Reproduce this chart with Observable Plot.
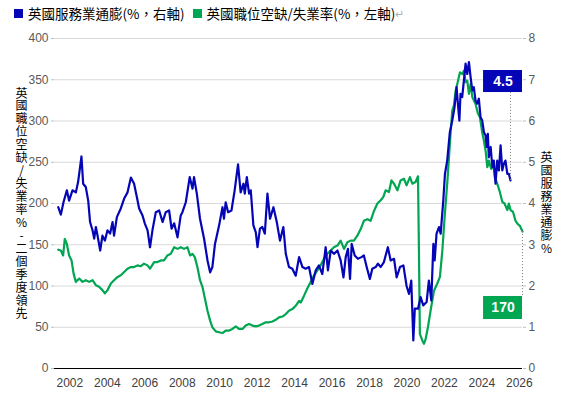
<!DOCTYPE html>
<html><head><meta charset="utf-8">
<script src="https://cdn.jsdelivr.net/npm/d3@7"></script>
<script src="https://cdn.jsdelivr.net/npm/@observablehq/plot@0.6"></script>
<style>
body{margin:0;background:#fff;}
#wrap{width:583px;height:399px;position:relative;overflow:hidden;}
#legend{height:26px;display:flex;align-items:center;padding-left:14px;font-family:"Noto Sans CJK TC","Liberation Sans",sans-serif;font-size:13.5px;color:#000;white-space:nowrap;}
#legend .sw{display:inline-block;width:9px;height:9px;margin-right:5px;}
#legend .item{display:flex;align-items:center;margin-right:8px;}
#legend .pm{color:#b0b0b0;font-size:11px;}
</style></head><body>
<div id="wrap"><div id="legend"></div><div id="chart"></div></div>
<script>
// UK services inflation (%, right axis)
const blueYears = [2001.38,2001.52,2001.66,2001.84,2001.96,2002.14,2002.32,2002.44,2002.62,2002.71,2002.85,2002.98,2003.08,2003.21,2003.30,2003.39,2003.48,2003.62,2003.74,2003.87,2004.01,2004.15,2004.28,2004.36,2004.51,2004.72,2004.90,2005.08,2005.26,2005.43,2005.58,2005.70,2005.88,2006.00,2006.15,2006.28,2006.41,2006.59,2006.77,2006.95,2007.12,2007.30,2007.43,2007.57,2007.75,2007.92,2008.01,2008.19,2008.40,2008.55,2008.63,2008.78,2008.95,2009.17,2009.35,2009.49,2009.61,2009.75,2009.97,2010.15,2010.23,2010.32,2010.45,2010.63,2010.80,2010.98,2011.12,2011.27,2011.34,2011.45,2011.57,2011.66,2011.80,2011.93,2012.02,2012.15,2012.28,2012.41,2012.55,2012.69,2012.87,2013.05,2013.22,2013.40,2013.53,2013.70,2013.88,2014.06,2014.24,2014.42,2014.59,2014.77,2014.95,2015.13,2015.30,2015.48,2015.66,2015.78,2015.93,2016.10,2016.29,2016.46,2016.61,2016.73,2016.85,2016.96,2017.05,2017.21,2017.38,2017.57,2017.70,2017.85,2018.02,2018.15,2018.33,2018.45,2018.60,2018.77,2018.98,2019.13,2019.31,2019.45,2019.63,2019.81,2019.98,2020.11,2020.23,2020.34,2020.42,2020.59,2020.73,2020.87,2021.05,2021.17,2021.30,2021.41,2021.48,2021.58,2021.71,2021.80,2021.94,2022.03,2022.15,2022.29,2022.42,2022.54,2022.65,2022.72,2022.80,2022.86,2022.95,2023.04,2023.13,2023.22,2023.31,2023.40,2023.49,2023.57,2023.66,2023.75,2023.84,2023.93,2024.02,2024.11,2024.20,2024.25,2024.32,2024.37,2024.47,2024.56,2024.64,2024.73,2024.82,2024.91,2025.00,2025.09,2025.17,2025.26,2025.36,2025.44,2025.53];
const blueValues = [3.91,3.73,4.03,4.32,4.07,4.32,4.27,4.52,5.14,4.48,4.40,4.07,3.55,3.35,3.15,3.43,3.22,2.86,3.22,3.10,3.35,3.27,3.55,3.22,3.67,3.88,4.12,4.27,4.63,4.48,4.15,3.88,3.71,3.52,3.35,2.94,3.35,3.79,3.83,3.55,3.79,3.83,3.39,3.52,3.18,3.71,3.79,4.03,4.64,4.36,4.64,4.24,3.63,3.14,2.62,2.33,2.46,3.02,3.47,3.91,3.63,4.03,3.79,3.83,4.32,4.95,4.27,4.48,4.24,4.64,4.24,4.32,3.47,3.30,2.94,3.39,3.43,3.27,4.24,3.63,3.91,3.55,3.10,3.43,2.78,2.46,2.42,2.25,2.70,2.46,2.42,2.46,2.05,2.38,2.50,2.29,2.94,2.38,2.86,2.78,2.86,2.62,2.21,2.70,2.90,2.17,3.02,2.74,2.66,2.70,2.74,2.46,2.17,2.42,2.46,2.54,2.46,2.58,2.94,2.62,2.66,2.21,2.46,2.50,2.00,1.81,2.13,0.68,1.45,1.45,1.73,1.53,1.61,2.13,1.65,3.02,2.62,3.27,3.43,3.27,4.07,4.72,5.04,5.73,6.01,6.33,6.82,6.42,6.01,6.66,6.58,6.98,7.39,7.14,7.43,7.06,6.74,6.82,6.50,6.42,6.54,6.09,6.01,5.73,5.65,5.37,5.69,5.12,5.37,4.88,5.04,4.48,5.04,4.80,5.41,4.80,4.96,5.04,4.72,4.72,4.56];
// UK vacancies / unemployment (%, left axis, led 2 quarters)
const greenYears = [2001.38,2001.52,2001.64,2001.73,2001.84,2001.96,2002.09,2002.20,2002.32,2002.50,2002.68,2002.85,2003.03,2003.21,2003.39,2003.56,2003.74,2003.87,2004.01,2004.19,2004.36,2004.55,2004.72,2004.90,2005.08,2005.26,2005.43,2005.61,2005.79,2005.96,2006.15,2006.28,2006.50,2006.68,2006.86,2007.03,2007.21,2007.39,2007.57,2007.75,2007.92,2008.10,2008.28,2008.42,2008.55,2008.67,2008.81,2008.95,2009.08,2009.20,2009.35,2009.49,2009.61,2009.79,2009.97,2010.15,2010.32,2010.50,2010.68,2010.86,2011.03,2011.22,2011.39,2011.57,2011.75,2011.93,2012.10,2012.28,2012.46,2012.64,2012.82,2012.99,2013.17,2013.35,2013.53,2013.70,2013.88,2014.06,2014.24,2014.33,2014.50,2014.68,2014.86,2015.04,2015.22,2015.39,2015.57,2015.75,2015.93,2016.10,2016.29,2016.46,2016.64,2016.82,2016.99,2017.17,2017.35,2017.53,2017.70,2017.89,2018.06,2018.24,2018.42,2018.60,2018.74,2018.86,2019.04,2019.17,2019.31,2019.49,2019.66,2019.84,2019.98,2020.16,2020.29,2020.46,2020.59,2020.64,2020.69,2020.82,2020.91,2021.00,2021.12,2021.26,2021.44,2021.62,2021.76,2021.89,2022.01,2022.15,2022.29,2022.42,2022.51,2022.60,2022.69,2022.83,2022.96,2023.04,2023.13,2023.22,2023.31,2023.40,2023.49,2023.57,2023.66,2023.79,2023.89,2024.02,2024.11,2024.20,2024.29,2024.37,2024.50,2024.61,2024.69,2024.82,2024.96,2025.09,2025.21,2025.36,2025.44,2025.53,2025.66,2025.80,2025.92,2026.03,2026.17];
const greenValues = [144,143,137,157,151,137,131,115,105,109,105,107,105,107,101,99,95,91,95,103,107,111,113,117,121,123,123,125,124,127,125,121,129,129,131,131,137,139,147,145,147,145,147,137,139,135,123,107,99,86,70,58,50,45,44,43,46,46,48,51,48,48,52,54,52,51,52,54,56,56,57,59,62,63,66,70,72,76,82,80,88,97,105,113,119,125,133,139,143,147,149,155,145,153,155,155,161,169,179,181,179,191,200,204,208,216,214,228,224,216,228,230,222,232,224,226,233,143,42,34,30,36,50,70,94,103,111,143,183,224,272,313,319,337,345,359,357,361,347,349,333,345,329,325,321,309,305,286,276,264,244,252,242,248,232,224,214,202,200,192,200,192,190,179,175,173,166];
const leftTicks = [0,50,100,150,200,250,300,350,400];
const rightTicks = [0,1,2,3,4,5,6,7,8];
const xTicks = [2002,2004,2006,2008,2010,2012,2014,2016,2018,2020,2022,2024,2026];
const legendLabels = ["英國服務業通膨(%，右軸)", "英國職位空缺/失業率(%，左軸)"];
const leftTitle = "英國職位空缺/失業率%-二個季度領先";
const rightTitle = "英國服務業通膨%";
const endLabels = ["4.5", "170"];

const BLUE = "#0505b8", GREEN = "#00a651";
const ratio = 50; // right axis (%) -> left axis units

const blue = blueYears.map((x, i) => ({x, y: blueValues[i] * ratio}));
const green = greenYears.map((x, i) => ({x, y: greenValues[i]}));
const lastBlue = blue[blue.length - 1], lastGreen = green[green.length - 1];

// legend
const lg = document.getElementById("legend");
[[BLUE, legendLabels[0], ""], [GREEN, legendLabels[1], "↵"]].forEach(([c, t, pm]) => {
  const it = document.createElement("span"); it.className = "item";
  it.innerHTML = `<span class="sw" style="background:${c}"></span><span>${t}</span>` + (pm ? `<span class="pm">${pm}</span>` : "");
  lg.appendChild(it);
});

const boxes = [
  {x1: 2024.09, x2: 2026.17, y1: 334.5, y2: 361.2, fill: BLUE, text: endLabels[0]},
  {x1: 2024.09, x2: 2026.17, y1: 59.4, y2: 87.3, fill: GREEN, text: endLabels[1]}
];
const connectors = [
  {x: lastBlue.x, y1: lastBlue.y, y2: boxes[0].y1},
  {x: lastGreen.x, y1: lastGreen.y, y2: boxes[1].y2}
];

const chart = Plot.plot({
  width: 583, height: 373,
  marginTop: 12, marginBottom: 31, marginLeft: 54, marginRight: 61,
  style: {fontFamily: "'Liberation Sans', Arial, sans-serif", fontSize: "12px", background: "#fff"},
  x: {domain: [2001.18, 2026.17]},
  y: {domain: [0, 400]},
  marks: [
    Plot.gridY(leftTicks.filter(d => d > 0), {stroke: "#d9d9d9", strokeOpacity: 1, strokeWidth: 1}),
    Plot.ruleY([0], {stroke: "#000", strokeWidth: 1}),
    Plot.axisY({anchor: "left", ticks: leftTicks, tickSize: 3, tickPadding: 3, label: null, color: "#595959", stroke: "#bfbfbf"}),
    Plot.axisY({anchor: "right", ticks: rightTicks.map(d => d * ratio), tickFormat: d => String(d / ratio), tickSize: 3, tickPadding: 3, label: null, color: "#595959", stroke: "#bfbfbf"}),
    Plot.axisX({ticks: xTicks, tickFormat: d => String(d), tickSize: 0, tickPadding: 10, label: null, color: "#404040"}),
    Plot.text([leftTitle], {text: d => Array.from(d).join("\n"), frameAnchor: "left", textAnchor: "middle", dx: -33, lineHeight: 1.08, fontSize: 12, fill: "#000", fontFamily: "'Noto Sans CJK TC', sans-serif"}),
    Plot.text([rightTitle], {text: d => Array.from(d).join("\n"), frameAnchor: "right", textAnchor: "middle", dx: 24, lineHeight: 1.08, fontSize: 12, fill: "#000", fontFamily: "'Noto Sans CJK TC', sans-serif"}),
    Plot.line(green, {x: "x", y: "y", stroke: GREEN, strokeWidth: 2.2, curve: "linear"}),
    Plot.line(blue, {x: "x", y: "y", stroke: BLUE, strokeWidth: 2.2, curve: "linear"}),
    Plot.ruleX(connectors, {x: "x", y1: "y1", y2: "y2", stroke: "#808080", strokeDasharray: "1,2", strokeWidth: 1}),
    Plot.rect(boxes, {x1: "x1", x2: "x2", y1: "y1", y2: "y2", fill: "fill"}),
    Plot.text(boxes, {x: d => (d.x1 + d.x2) / 2, y: d => (d.y1 + d.y2) / 2, text: "text", fill: "#fff", fontWeight: "bold", fontSize: 14})
  ]
});
document.getElementById("chart").appendChild(chart);
</script>
</body></html>
